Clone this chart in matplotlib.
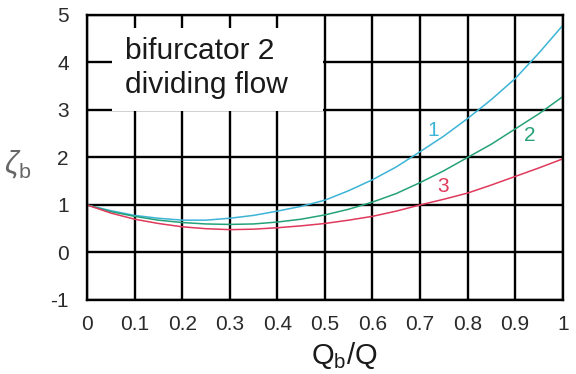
import matplotlib
matplotlib.use("Agg")
import matplotlib.pyplot as plt
from matplotlib.patches import Rectangle

plt.rcParams['font.family'] = ['Liberation Sans', 'DejaVu Sans']
plt.rcParams['mathtext.fontset'] = 'custom'
plt.rcParams['mathtext.rm'] = 'Liberation Sans'
plt.rcParams['mathtext.it'] = 'Liberation Sans:italic'
plt.rcParams['axes.unicode_minus'] = False

# flow ratio Qb/Q
qb = [0.0, 0.05, 0.1, 0.15, 0.2, 0.25, 0.3, 0.35, 0.4, 0.45, 0.5,
      0.55, 0.6, 0.65, 0.7, 0.75, 0.8, 0.85, 0.9, 0.95, 1.0]

# loss coefficient for the three branch configurations
zeta_1 = [1.0, 0.88, 0.78, 0.72, 0.68, 0.68, 0.72, 0.78, 0.87, 0.97, 1.10,
          1.30, 1.53, 1.80, 2.12, 2.45, 2.82, 3.22, 3.66, 4.20, 4.78]
zeta_2 = [1.0, 0.86, 0.76, 0.68, 0.63, 0.60, 0.59, 0.60, 0.64, 0.70, 0.79,
          0.91, 1.06, 1.24, 1.47, 1.72, 2.00, 2.28, 2.60, 2.92, 3.28]
zeta_3 = [1.0, 0.83, 0.70, 0.61, 0.54, 0.50, 0.48, 0.49, 0.52, 0.56, 0.61,
          0.68, 0.76, 0.87, 1.00, 1.12, 1.25, 1.42, 1.60, 1.78, 1.97]

curve_labels = ['1', '2', '3']
label_pos = [(0.727, 2.56), (0.93, 2.46), (0.748, 1.38)]
colors = ['#3cb4d6', '#25a27a', '#e0395c']

xticks = [0, 0.1, 0.2, 0.3, 0.4, 0.5, 0.6, 0.7, 0.8, 0.9, 1.0]
xticklabels = ['0', '0.1', '0.2', '0.3', '0.4', '0.5', '0.6', '0.7', '0.8', '0.9', '1']
yticks = [-1, 0, 1, 2, 3, 4, 5]

fig = plt.figure(figsize=(5.76, 3.74), dpi=100)
ax = fig.add_axes([0.151, 0.198, 0.826, 0.762])

ax.set_xlim(0, 1)
ax.set_ylim(-1, 5)
ax.set_xticks(xticks)
ax.set_xticklabels(xticklabels)
ax.set_yticks(yticks)
ax.tick_params(length=0, labelsize=15, colors='#2a2a2a')
ax.tick_params(axis='y', pad=13)
ax.tick_params(axis='x', pad=11)
ax.set_axisbelow(True)
ax.grid(True, color='black', linewidth=1.7)
for s in ax.spines.values():
    s.set_linewidth(1.7)

# white panel behind the title text
ax.add_patch(Rectangle((0.053, 2.97), 0.443, 1.76, facecolor='white',
                       edgecolor='none', zorder=1))
ax.text(0.08, 3.88, 'bifurcator 2\ndividing flow', fontsize=21.5,
        ha='left', va='center', linespacing=1.3, color='#1a1a1a', zorder=3)

for ys, c, lab, (lx, ly) in zip([zeta_1, zeta_2, zeta_3], colors,
                                curve_labels, label_pos):
    ax.plot(qb, ys, color=c, linewidth=1.1, zorder=2)
    ax.text(lx, ly, lab, color=c, fontsize=15, ha='center', va='center', zorder=3)

ax.text(-0.145, 1.85, r'$\zeta_{\rm b}$', fontsize=22, color='#666666',
        ha='center', va='center')
ax.set_xlabel(r'Q$_{\rm b}$/Q', fontsize=21, color='#1a1a1a')
ax.xaxis.set_label_coords(0.54, -0.14)

fig.savefig('out.png', dpi=100)
